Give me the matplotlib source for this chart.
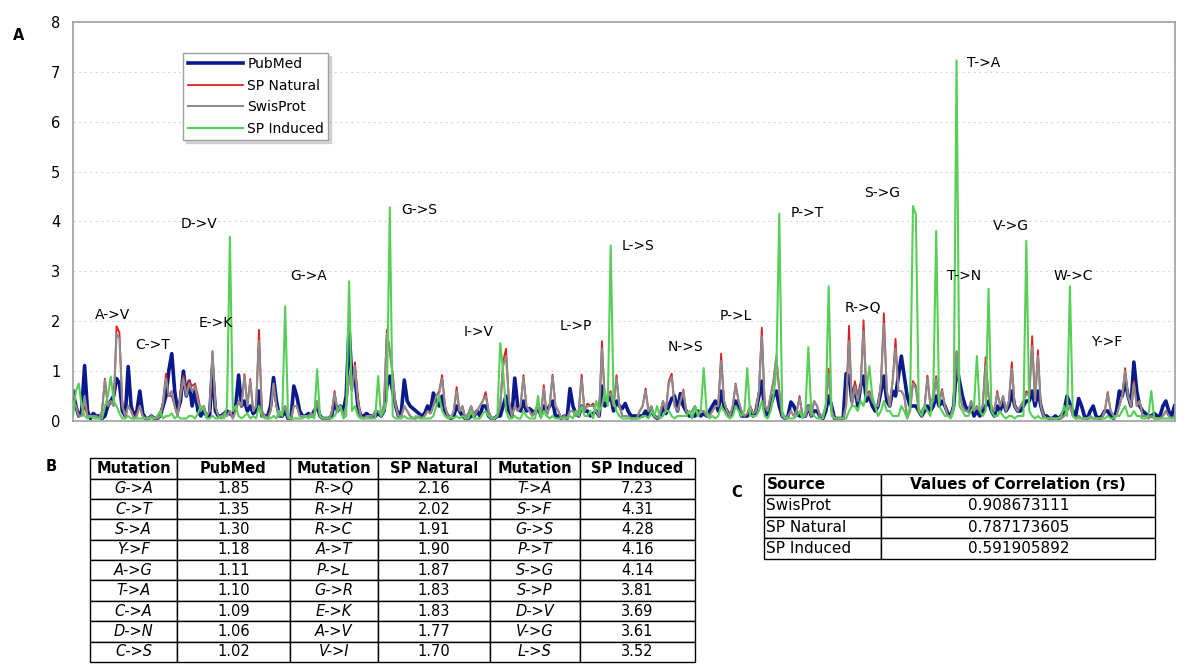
import matplotlib
matplotlib.use('Agg')
import matplotlib.pyplot as plt


AMINO = ['A', 'C', 'D', 'E', 'F', 'G', 'H', 'I', 'K', 'L',
         'M', 'N', 'P', 'Q', 'R', 'S', 'T', 'V', 'W', 'Y']

# every substitution X->Y, in alphabetical order (20 x 19 = 380 points)
MUTATIONS = [a + '->' + b for a in AMINO for b in AMINO if a != b]

# values, one row of 19 per source residue
PUBMED = [
    [0.60, 0.30, 0.10, 0.20, 1.11, 0.20, 0.05, 0.15, 0.10, 0.10, 0.05, 0.10, 0.30, 0.40, 0.50, 0.85, 0.75, 0.20, 0.10],
    [1.09, 0.30, 0.10, 0.20, 0.60, 0.15, 0.05, 0.05, 0.10, 0.05, 0.05, 0.10, 0.30, 0.50, 1.02, 1.35, 0.60, 0.20, 0.40],
    [1.00, 0.50, 0.80, 0.30, 0.60, 0.20, 0.10, 0.20, 0.10, 0.10, 1.06, 0.20, 0.10, 0.10, 0.15, 0.20, 0.15, 0.10, 0.30],
    [0.92, 0.30, 0.40, 0.20, 0.30, 0.15, 0.20, 0.60, 0.10, 0.10, 0.10, 0.30, 0.87, 0.40, 0.10, 0.10, 0.20, 0.05, 0.05],
    [0.70, 0.50, 0.20, 0.10, 0.10, 0.15, 0.10, 0.20, 0.30, 0.10, 0.05, 0.05, 0.05, 0.10, 0.40, 0.20, 0.30, 0.20, 0.50],
    [1.85, 0.80, 0.90, 0.30, 0.10, 0.10, 0.15, 0.10, 0.10, 0.10, 0.15, 0.10, 0.20, 0.70, 0.90, 0.60, 0.30, 0.10, 0.20],
    [0.82, 0.40, 0.30, 0.25, 0.20, 0.15, 0.10, 0.15, 0.30, 0.20, 0.56, 0.40, 0.30, 0.50, 0.20, 0.10, 0.05, 0.10, 0.30],
    [0.20, 0.10, 0.05, 0.05, 0.10, 0.10, 0.20, 0.10, 0.30, 0.30, 0.10, 0.05, 0.05, 0.10, 0.10, 0.30, 0.50, 0.20, 0.10],
    [0.86, 0.30, 0.20, 0.40, 0.20, 0.25, 0.20, 0.15, 0.30, 0.10, 0.30, 0.20, 0.30, 0.40, 0.10, 0.10, 0.05, 0.10, 0.05],
    [0.65, 0.30, 0.15, 0.10, 0.30, 0.20, 0.20, 0.10, 0.15, 0.20, 0.10, 0.70, 0.30, 0.40, 0.50, 0.20, 0.40, 0.30, 0.25],
    [0.35, 0.20, 0.10, 0.10, 0.10, 0.10, 0.10, 0.20, 0.10, 0.20, 0.10, 0.05, 0.10, 0.30, 0.15, 0.30, 0.45, 0.50, 0.20],
    [0.55, 0.30, 0.20, 0.10, 0.10, 0.10, 0.20, 0.10, 0.15, 0.10, 0.20, 0.30, 0.40, 0.20, 0.60, 0.30, 0.20, 0.10, 0.20],
    [0.40, 0.30, 0.10, 0.10, 0.10, 0.20, 0.10, 0.20, 0.50, 0.80, 0.20, 0.10, 0.30, 0.50, 0.60, 0.30, 0.10, 0.05, 0.10],
    [0.38, 0.30, 0.15, 0.10, 0.10, 0.10, 0.30, 0.10, 0.20, 0.20, 0.10, 0.05, 0.20, 0.50, 0.30, 0.05, 0.05, 0.05, 0.05],
    [0.95, 0.90, 0.40, 0.70, 0.30, 0.70, 0.90, 0.40, 0.50, 0.30, 0.20, 0.30, 0.60, 0.90, 0.40, 0.30, 0.60, 0.50, 0.90],
    [1.30, 0.90, 0.50, 0.30, 0.30, 0.30, 0.20, 0.10, 0.20, 0.30, 0.20, 0.30, 0.50, 0.30, 0.40, 0.30, 0.15, 0.10, 0.30],
    [1.10, 0.80, 0.50, 0.30, 0.20, 0.30, 0.10, 0.20, 0.10, 0.20, 0.30, 0.40, 0.20, 0.10, 0.30, 0.20, 0.40, 0.20, 0.30],
    [0.60, 0.30, 0.20, 0.20, 0.30, 0.40, 0.40, 0.60, 0.30, 0.60, 0.30, 0.10, 0.10, 0.05, 0.05, 0.10, 0.05, 0.10, 0.20],
    [0.50, 0.35, 0.20, 0.10, 0.45, 0.30, 0.10, 0.05, 0.20, 0.30, 0.10, 0.05, 0.10, 0.20, 0.20, 0.10, 0.05, 0.20, 0.60],
    [0.50, 0.80, 0.50, 0.30, 1.18, 0.60, 0.30, 0.20, 0.15, 0.10, 0.10, 0.15, 0.10, 0.10, 0.30, 0.40, 0.20, 0.10, 0.30],
]

SP_NATURAL = [
    [0.45, 0.30, 0.10, 0.10, 0.30, 0.10, 0.10, 0.10, 0.10, 0.05, 0.20, 0.85, 0.30, 0.40, 0.30, 1.90, 1.77, 0.30, 0.10],
    [0.30, 0.20, 0.05, 0.15, 0.30, 0.10, 0.05, 0.05, 0.10, 0.05, 0.05, 0.10, 0.40, 0.95, 0.50, 0.50, 0.30, 0.10, 0.60],
    [0.90, 0.60, 0.80, 0.70, 0.75, 0.50, 0.20, 0.30, 0.10, 0.20, 1.40, 0.30, 0.10, 0.05, 0.15, 0.10, 0.20, 0.05, 0.20],
    [0.40, 0.30, 0.94, 0.30, 0.84, 0.20, 0.30, 1.83, 0.20, 0.10, 0.05, 0.20, 0.75, 0.30, 0.10, 0.15, 0.30, 0.05, 0.05],
    [0.30, 0.30, 0.10, 0.10, 0.10, 0.10, 0.15, 0.10, 0.40, 0.10, 0.05, 0.05, 0.05, 0.15, 0.60, 0.20, 0.30, 0.10, 0.30],
    [0.90, 0.60, 1.18, 0.50, 0.10, 0.05, 0.10, 0.10, 0.10, 0.20, 0.20, 0.10, 0.30, 1.83, 1.40, 0.98, 0.30, 0.10, 0.10],
    [0.30, 0.20, 0.10, 0.05, 0.05, 0.10, 0.05, 0.10, 0.20, 0.15, 0.30, 0.50, 0.60, 0.92, 0.30, 0.10, 0.05, 0.20, 0.68],
    [0.20, 0.30, 0.05, 0.15, 0.30, 0.10, 0.20, 0.30, 0.40, 0.58, 0.20, 0.05, 0.05, 0.10, 0.30, 1.20, 1.45, 0.40, 0.10],
    [0.30, 0.20, 0.30, 0.92, 0.30, 0.20, 0.10, 0.20, 0.30, 0.10, 0.72, 0.10, 0.30, 0.93, 0.30, 0.20, 0.05, 0.10, 0.05],
    [0.20, 0.20, 0.10, 0.20, 0.93, 0.20, 0.35, 0.30, 0.35, 0.20, 0.10, 1.60, 0.40, 0.50, 0.60, 0.30, 0.92, 0.30, 0.10],
    [0.10, 0.10, 0.05, 0.05, 0.05, 0.20, 0.30, 0.65, 0.20, 0.30, 0.10, 0.05, 0.15, 0.40, 0.20, 0.80, 0.95, 0.30, 0.20],
    [0.40, 0.63, 0.20, 0.15, 0.20, 0.30, 0.15, 0.20, 0.20, 0.10, 0.10, 0.20, 0.30, 0.30, 1.35, 0.40, 0.20, 0.10, 0.30],
    [0.75, 0.40, 0.20, 0.10, 0.15, 0.30, 0.15, 0.20, 0.60, 1.87, 0.30, 0.20, 0.50, 0.80, 1.30, 0.60, 0.10, 0.05, 0.10],
    [0.20, 0.10, 0.20, 0.50, 0.10, 0.10, 0.30, 0.10, 0.40, 0.30, 0.10, 0.10, 0.30, 1.05, 0.20, 0.05, 0.05, 0.05, 0.05],
    [0.30, 1.91, 0.30, 0.80, 0.50, 0.70, 2.02, 0.50, 0.60, 0.40, 0.30, 0.30, 0.80, 2.16, 0.60, 0.30, 0.80, 1.65, 0.60],
    [0.60, 0.50, 0.05, 0.20, 0.80, 0.70, 0.20, 0.20, 0.30, 0.91, 0.30, 0.50, 0.90, 0.40, 0.64, 0.30, 0.10, 0.10, 0.30],
    [1.40, 0.60, 0.30, 0.20, 0.20, 0.40, 0.20, 0.30, 0.20, 0.30, 1.28, 0.50, 0.30, 0.20, 0.60, 0.30, 0.50, 0.20, 0.40],
    [1.18, 0.30, 0.20, 0.30, 0.40, 0.60, 0.50, 1.70, 0.40, 1.42, 0.30, 0.10, 0.05, 0.05, 0.05, 0.05, 0.05, 0.05, 0.10],
    [0.20, 0.30, 0.10, 0.05, 0.10, 0.05, 0.05, 0.05, 0.10, 0.05, 0.05, 0.05, 0.05, 0.20, 0.58, 0.20, 0.10, 0.10, 0.30],
    [0.50, 1.06, 0.50, 0.30, 0.80, 0.30, 0.40, 0.10, 0.10, 0.05, 0.10, 0.05, 0.05, 0.05, 0.10, 0.20, 0.10, 0.05, 0.10],
]

SWISPROT = [
    [0.40, 0.30, 0.10, 0.10, 0.50, 0.10, 0.10, 0.10, 0.10, 0.05, 0.20, 0.82, 0.30, 0.40, 0.30, 1.75, 1.65, 0.30, 0.10],
    [0.30, 0.20, 0.05, 0.10, 0.30, 0.10, 0.05, 0.05, 0.10, 0.05, 0.05, 0.10, 0.35, 0.85, 0.50, 0.60, 0.30, 0.10, 0.50],
    [0.85, 0.50, 0.75, 0.60, 0.70, 0.40, 0.20, 0.30, 0.10, 0.20, 1.38, 0.30, 0.10, 0.05, 0.15, 0.10, 0.20, 0.05, 0.20],
    [0.40, 0.30, 0.90, 0.30, 0.80, 0.20, 0.30, 1.60, 0.20, 0.10, 0.05, 0.20, 0.75, 0.30, 0.10, 0.15, 0.30, 0.05, 0.05],
    [0.30, 0.30, 0.10, 0.10, 0.10, 0.10, 0.15, 0.10, 0.40, 0.10, 0.05, 0.05, 0.05, 0.15, 0.55, 0.20, 0.30, 0.10, 0.30],
    [0.90, 0.60, 1.10, 0.40, 0.10, 0.05, 0.10, 0.10, 0.10, 0.20, 0.20, 0.10, 0.30, 1.75, 1.40, 0.90, 0.30, 0.10, 0.10],
    [0.30, 0.20, 0.10, 0.05, 0.05, 0.10, 0.05, 0.10, 0.20, 0.15, 0.30, 0.50, 0.55, 0.85, 0.30, 0.10, 0.05, 0.20, 0.60],
    [0.20, 0.30, 0.05, 0.15, 0.30, 0.10, 0.20, 0.30, 0.40, 0.50, 0.20, 0.05, 0.05, 0.10, 0.30, 1.10, 1.30, 0.40, 0.10],
    [0.30, 0.20, 0.30, 0.88, 0.30, 0.20, 0.10, 0.20, 0.30, 0.10, 0.65, 0.10, 0.30, 0.90, 0.30, 0.20, 0.05, 0.10, 0.05],
    [0.20, 0.20, 0.10, 0.20, 0.85, 0.20, 0.30, 0.30, 0.30, 0.20, 0.10, 1.45, 0.40, 0.50, 0.55, 0.30, 0.85, 0.30, 0.10],
    [0.10, 0.10, 0.05, 0.05, 0.05, 0.20, 0.30, 0.60, 0.20, 0.30, 0.10, 0.05, 0.15, 0.40, 0.20, 0.75, 0.88, 0.30, 0.20],
    [0.40, 0.60, 0.20, 0.15, 0.20, 0.30, 0.15, 0.20, 0.20, 0.10, 0.10, 0.20, 0.30, 0.30, 1.20, 0.40, 0.20, 0.10, 0.30],
    [0.72, 0.40, 0.20, 0.10, 0.15, 0.30, 0.15, 0.20, 0.60, 1.70, 0.30, 0.20, 0.50, 0.80, 1.30, 0.60, 0.10, 0.05, 0.10],
    [0.20, 0.10, 0.20, 0.45, 0.10, 0.10, 0.30, 0.10, 0.40, 0.30, 0.10, 0.10, 0.30, 0.95, 0.20, 0.05, 0.05, 0.05, 0.05],
    [0.30, 1.60, 0.30, 0.70, 0.40, 0.70, 1.80, 0.50, 0.55, 0.40, 0.30, 0.30, 0.75, 1.95, 0.60, 0.30, 0.80, 1.45, 0.60],
    [0.60, 0.50, 0.10, 0.20, 0.75, 0.65, 0.20, 0.20, 0.30, 0.85, 0.30, 0.40, 0.85, 0.35, 0.60, 0.30, 0.10, 0.10, 0.30],
    [1.38, 0.60, 0.30, 0.20, 0.20, 0.40, 0.20, 0.30, 0.20, 0.30, 1.10, 0.50, 0.30, 0.20, 0.55, 0.30, 0.50, 0.20, 0.40],
    [1.05, 0.30, 0.20, 0.30, 0.40, 0.55, 0.50, 1.50, 0.40, 1.30, 0.30, 0.10, 0.05, 0.05, 0.05, 0.05, 0.05, 0.05, 0.10],
    [0.20, 0.30, 0.10, 0.05, 0.10, 0.05, 0.05, 0.05, 0.10, 0.05, 0.05, 0.05, 0.05, 0.20, 0.55, 0.20, 0.10, 0.10, 0.30],
    [0.50, 1.00, 0.50, 0.30, 0.75, 0.30, 0.40, 0.10, 0.10, 0.05, 0.10, 0.05, 0.05, 0.05, 0.10, 0.20, 0.10, 0.05, 0.10],
]

SP_INDUCED = [
    [0.10, 0.60, 0.75, 0.30, 0.10, 0.05, 0.10, 0.05, 0.05, 0.05, 0.05, 0.30, 0.50, 0.89, 0.40, 0.30, 0.15, 0.05, 0.05],
    [0.10, 0.05, 0.05, 0.05, 0.05, 0.05, 0.05, 0.05, 0.05, 0.05, 0.10, 0.20, 0.05, 0.10, 0.10, 0.15, 0.05, 0.10, 0.05],
    [0.05, 0.05, 0.10, 0.10, 0.05, 0.15, 0.30, 0.25, 0.05, 0.05, 0.10, 0.05, 0.05, 0.10, 0.05, 0.30, 3.69, 0.20, 0.30],
    [0.10, 0.05, 0.10, 0.15, 0.05, 0.10, 0.05, 0.30, 0.10, 0.05, 0.05, 0.05, 0.10, 0.05, 0.20, 0.10, 2.30, 0.10, 0.05],
    [0.05, 0.05, 0.05, 0.05, 0.10, 0.05, 0.10, 0.05, 1.04, 0.10, 0.05, 0.05, 0.05, 0.05, 0.10, 0.20, 0.30, 0.05, 0.10],
    [2.80, 0.20, 0.30, 0.10, 0.05, 0.05, 0.05, 0.05, 0.05, 0.05, 0.90, 0.10, 0.20, 0.40, 4.28, 0.10, 0.05, 0.05, 0.05],
    [0.10, 0.05, 0.05, 0.05, 0.10, 0.05, 0.05, 0.05, 0.05, 0.05, 0.10, 0.30, 0.50, 0.20, 0.10, 0.05, 0.10, 0.05, 0.10],
    [0.05, 0.10, 0.05, 0.05, 0.20, 0.05, 0.05, 0.05, 0.15, 0.20, 0.10, 0.05, 0.05, 0.10, 1.56, 1.00, 0.20, 0.05, 0.05],
    [0.10, 0.05, 0.05, 0.20, 0.10, 0.05, 0.05, 0.05, 0.50, 0.05, 0.20, 0.10, 0.05, 0.10, 0.05, 0.05, 0.05, 0.05, 0.05],
    [0.10, 0.05, 0.20, 0.10, 0.30, 0.10, 0.10, 0.20, 0.05, 0.40, 0.20, 0.30, 0.60, 0.30, 3.52, 0.40, 0.20, 0.10, 0.05],
    [0.05, 0.05, 0.05, 0.05, 0.05, 0.05, 0.10, 0.10, 0.05, 0.20, 0.10, 0.30, 0.05, 0.10, 0.20, 0.20, 0.10, 0.05, 0.10],
    [0.10, 0.10, 0.10, 0.20, 0.05, 0.30, 0.10, 0.20, 1.06, 0.20, 0.05, 0.10, 0.05, 0.10, 0.30, 0.20, 0.10, 0.05, 0.10],
    [0.30, 0.20, 0.10, 0.20, 1.06, 0.10, 0.10, 0.10, 0.20, 0.40, 0.10, 0.05, 0.20, 0.50, 1.00, 4.16, 0.20, 0.05, 0.05],
    [0.05, 0.05, 0.10, 0.20, 0.05, 0.20, 1.48, 0.20, 0.10, 0.05, 0.05, 0.05, 0.30, 2.70, 0.10, 0.05, 0.05, 0.05, 0.05],
    [0.05, 0.20, 0.30, 0.30, 0.20, 0.40, 0.30, 0.60, 1.10, 0.50, 0.30, 0.10, 0.20, 0.40, 0.20, 0.20, 0.10, 0.10, 0.10],
    [0.30, 0.20, 0.05, 0.30, 4.31, 4.14, 0.20, 0.10, 0.30, 0.20, 0.10, 0.60, 3.81, 0.30, 0.20, 0.10, 0.10, 0.05, 0.20],
    [7.23, 0.30, 0.20, 0.10, 0.10, 0.20, 0.30, 1.30, 0.20, 0.10, 0.20, 2.65, 0.20, 0.10, 0.10, 0.20, 0.10, 0.05, 0.10],
    [0.10, 0.05, 0.10, 0.10, 0.10, 3.61, 0.20, 0.10, 0.05, 0.10, 0.05, 0.05, 0.05, 0.05, 0.05, 0.05, 0.05, 0.10, 0.30],
    [0.10, 2.70, 0.10, 0.05, 0.05, 0.05, 0.05, 0.05, 0.05, 0.05, 0.05, 0.05, 0.05, 0.05, 0.10, 0.05, 0.05, 0.10, 0.10],
    [0.20, 0.30, 0.10, 0.10, 0.20, 0.10, 0.10, 0.05, 0.05, 0.10, 0.60, 0.05, 0.05, 0.05, 0.05, 0.05, 0.05, 0.05, 0.05],
]

# labelled peaks in panel A
PEAK_LABELS = ['A->V', 'C->T', 'D->V', 'E->K', 'G->A', 'G->S', 'I->V', 'L->P', 'L->S', 'N->S',
               'P->L', 'P->T', 'R->Q', 'S->G', 'T->A', 'T->N', 'V->G', 'W->C', 'Y->F']
# where each label text sits (x index, y value) - layout only
LABEL_POS = [(7.6, 2.12), (21.4, 1.52), (37.2, 3.94), (43.4, 1.96), (74.8, 2.9),
             (112.8, 4.22), (134.5, 1.78), (167.6, 1.9), (188.6, 3.5), (204.5, 1.48),
             (222.4, 2.1), (246.9, 4.16), (265.5, 2.28), (272.1, 4.58), (307.6, 7.18),
             (300.7, 2.9), (316.6, 3.9), (337.2, 2.9), (350.3, 1.58)]

# table B
TOP_PUBMED = ['G->A', 'C->T', 'S->A', 'Y->F', 'A->G', 'T->A', 'C->A', 'D->N', 'C->S']
TOP_PUBMED_VAL = ['1.85', '1.35', '1.30', '1.18', '1.11', '1.10', '1.09', '1.06', '1.02']
TOP_NATURAL = ['R->Q', 'R->H', 'R->C', 'A->T', 'P->L', 'G->R', 'E->K', 'A->V', 'V->I']
TOP_NATURAL_VAL = ['2.16', '2.02', '1.91', '1.90', '1.87', '1.83', '1.83', '1.77', '1.70']
TOP_INDUCED = ['T->A', 'S->F', 'G->S', 'P->T', 'S->G', 'S->P', 'D->V', 'V->G', 'L->S']
TOP_INDUCED_VAL = ['7.23', '4.31', '4.28', '4.16', '4.14', '3.81', '3.69', '3.61', '3.52']

# table C
CORR_SOURCE = ['SwisProt', 'SP Natural', 'SP Induced']
CORR_VALUE = ['0.908673111', '0.787173605', '0.591905892']


def flatten(rows):
    out = []
    for row in rows:
        out.extend(row)
    return out


def draw_lines(fig):
    ax = fig.add_axes([0.0608, 0.366, 0.918, 0.601])
    x = list(range(len(MUTATIONS)))

    # order matters: blue at the back, green on top
    ax.plot(x, flatten(PUBMED), color='#0a1a8c', lw=2.6, label='PubMed', zorder=2)
    ax.plot(x, flatten(SP_NATURAL), color='#e02020', lw=1.3, label='SP Natural', zorder=3)
    ax.plot(x, flatten(SWISPROT), color='#8c8c8c', lw=1.5, label='SwisProt', zorder=4)
    ax.plot(x, flatten(SP_INDUCED), color='#55d055', lw=1.5, label='SP Induced', zorder=5)

    ax.set_xlim(0, len(MUTATIONS) - 1)
    ax.set_ylim(0, 8)
    ax.set_yticks(range(0, 9))
    ax.set_xticks([])
    ax.tick_params(axis='y', length=0, labelsize=10.5, pad=9)
    ax.yaxis.grid(True, linestyle=(0, (2, 3)), color='#d8d8d8', lw=0.8)
    ax.set_axisbelow(True)
    for side in ['left', 'right', 'top', 'bottom']:
        ax.spines[side].set_color('#a0a0a0')
        ax.spines[side].set_linewidth(1.2)

    for name, (tx, ty) in zip(PEAK_LABELS, LABEL_POS):
        ax.text(tx, ty, name, fontsize=10, va='center', ha='left', zorder=6)

    leg = ax.legend(loc='upper left', bbox_to_anchor=(0.094, 0.94), fontsize=10,
                    handlelength=4.0, labelspacing=0.55, borderpad=0.3,
                    handletextpad=0.3, fancybox=False, shadow={'color': '#b0b0b0'},
                    framealpha=1)
    leg.get_frame().set_edgecolor('#a0a0a0')

    fig.text(0.011, 0.946, 'A', fontsize=10.5, fontweight='bold', va='center')


def draw_table_b(fig):
    ax = fig.add_axes([0.075, 0.003, 0.504, 0.307])
    ax.axis('off')
    header = ['Mutation', 'PubMed', 'Mutation', 'SP Natural', 'Mutation', 'SP Induced']
    rows = []
    for i in range(len(TOP_PUBMED)):
        rows.append([TOP_PUBMED[i], TOP_PUBMED_VAL[i], TOP_NATURAL[i], TOP_NATURAL_VAL[i],
                     TOP_INDUCED[i], TOP_INDUCED_VAL[i]])
    widths = [87, 113, 88, 112, 90, 115]
    widths = [w / sum(widths) for w in widths]
    tab = ax.table(cellText=rows, colLabels=header, colWidths=widths,
                   cellLoc='center', bbox=[0, 0, 1, 1])
    tab.auto_set_font_size(False)
    tab.set_fontsize(10.5)
    for (r, c), cell in tab.get_celld().items():
        cell.set_linewidth(1.0)
        cell.set_edgecolor('black')
        if r == 0:
            cell.get_text().set_fontweight('bold')
        elif c % 2 == 0:
            cell.get_text().set_fontstyle('italic')

    fig.text(0.038, 0.298, 'B', fontsize=10.5, fontweight='bold', va='center')


def draw_table_c(fig):
    ax = fig.add_axes([0.6367, 0.158, 0.326, 0.128])
    ax.axis('off')
    rows = [[s, v] for s, v in zip(CORR_SOURCE, CORR_VALUE)]
    tab = ax.table(cellText=rows, colLabels=['Source', 'Values of Correlation (rs)'],
                   colWidths=[0.3, 0.7], cellLoc='center', bbox=[0, 0, 1, 1])
    tab.auto_set_font_size(False)
    tab.set_fontsize(11)
    for (r, c), cell in tab.get_celld().items():
        cell.set_linewidth(1.0)
        cell.set_edgecolor('black')
        if c == 0:
            cell.get_text().set_ha('left')
            cell.PAD = 0.02
        if r == 0:
            cell.get_text().set_fontweight('bold')

    fig.text(0.609, 0.259, 'C', fontsize=10.5, fontweight='bold', va='center')


def execute():
    fig = plt.figure(figsize=(12, 6.64), dpi=100)
    draw_lines(fig)
    draw_table_b(fig)
    draw_table_c(fig)
    fig.savefig('out.png', dpi=100, facecolor='white')


if __name__ == "__main__":
    execute()
